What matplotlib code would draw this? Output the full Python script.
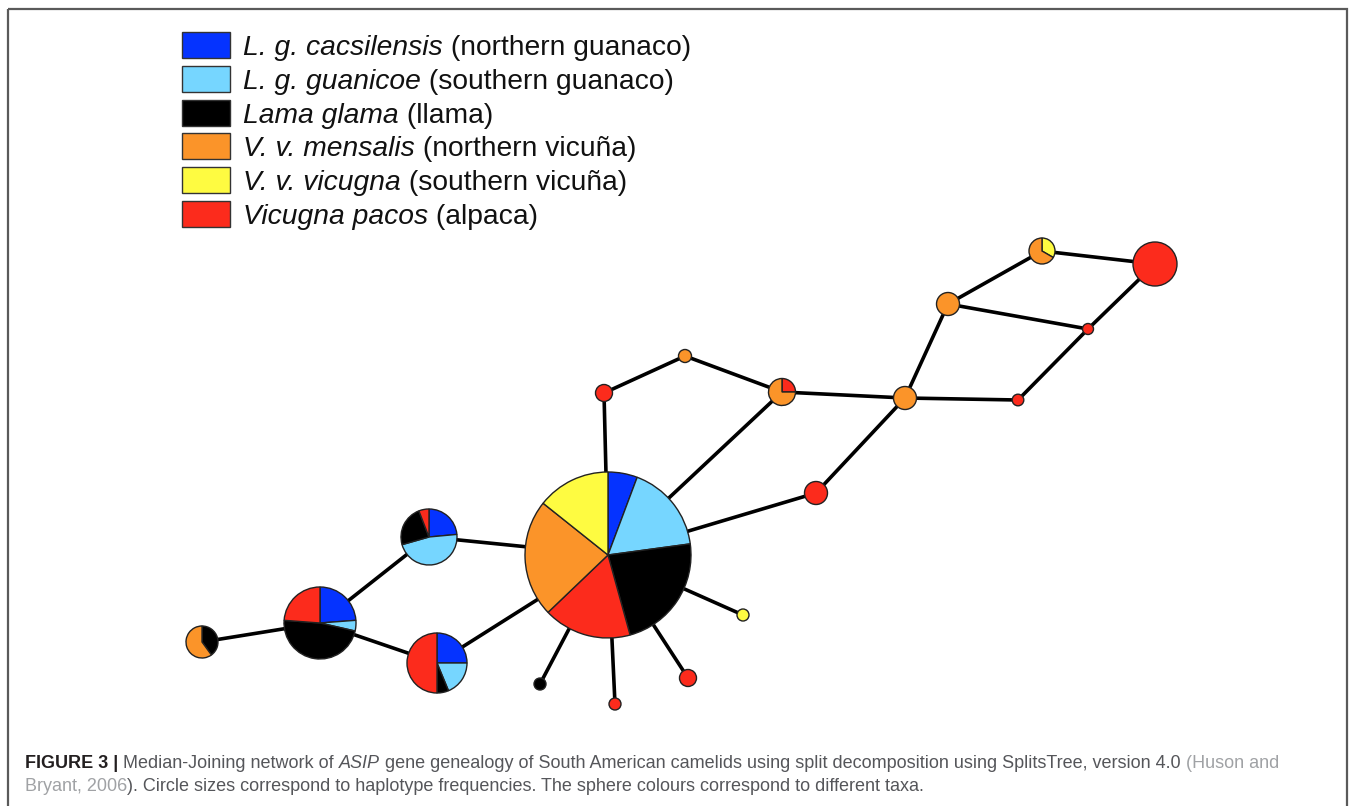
import matplotlib
matplotlib.use('Agg')
import matplotlib.pyplot as plt
from matplotlib.patches import Wedge, Circle, Rectangle

# taxa (legend order)
taxa_latin = ['L. g. cacsilensis', 'L. g. guanicoe', 'Lama glama',
              'V. v. mensalis', 'V. v. vicugna', 'Vicugna pacos']
taxa_common = ['(northern guanaco)', '(southern guanaco)', '(llama)',
               '(northern vicuña)', '(southern vicuña)', '(alpaca)']
taxa_colors = ['#0533ff', '#76d6ff', '#000000', '#fb9429', '#fefb41', '#fc2b1c']

# haplotype nodes: layout position, drawn radius, counts per taxon (legend order)
node_x = [608, 429, 320, 437, 202, 604, 685, 782, 905, 948, 1042, 1155, 1088, 1018, 816, 743, 688, 615, 540]
node_y = [555, 537, 623, 663, 642, 393, 356, 392, 398, 304, 251, 264, 329, 400, 493, 615, 678, 704, 684]
node_r = [83, 28, 36, 30, 16, 8.5, 6.5, 13.5, 11.5, 11.5, 13, 22, 5.5, 5.8, 11.5, 6, 8.5, 6, 6]
node_counts = [
    [2, 6, 8, 8, 5, 6],
    [4, 8, 4, 0, 0, 1],
    [5, 1, 10, 0, 0, 5],
    [4, 3, 1, 0, 0, 8],
    [0, 0, 2, 3, 0, 0],
    [0, 0, 0, 0, 0, 1],
    [0, 0, 0, 1, 0, 0],
    [0, 0, 0, 3, 0, 1],
    [0, 0, 0, 1, 0, 0],
    [0, 0, 0, 1, 0, 0],
    [0, 0, 0, 2, 1, 0],
    [0, 0, 0, 0, 0, 1],
    [0, 0, 0, 0, 0, 1],
    [0, 0, 0, 0, 0, 1],
    [0, 0, 0, 0, 0, 1],
    [0, 0, 0, 0, 1, 0],
    [0, 0, 0, 0, 0, 1],
    [0, 0, 0, 0, 0, 1],
    [0, 0, 1, 0, 0, 0],
]
# clockwise slice order from 12 o'clock
node_order = [[0, 1, 2, 5, 3, 4]] * 10 + [[4, 3]] + [[0, 1, 2, 5, 3, 4]] * 8
node_order[4] = [2, 3]
node_order[7] = [5, 3]

edges = [(0, 1), (1, 2), (2, 3), (2, 4), (3, 0), (0, 18), (0, 17), (0, 16), (0, 15),
         (0, 14), (0, 7), (0, 5), (5, 6), (6, 7), (7, 8), (14, 8), (8, 13), (8, 9),
         (9, 10), (9, 12), (10, 11), (11, 12), (12, 13)]

caption1 = [('FIGURE 3 | ', 'normal', 'bold', '#231f20'),
            ('Median-Joining network of ', 'normal', 'normal', '#55565a'),
            ('ASIP', 'italic', 'normal', '#55565a'),
            (' gene genealogy of South American camelids using split decomposition using SplitsTree, version 4.0 ',
             'normal', 'normal', '#55565a'),
            ('(Huson and', 'normal', 'normal', '#a0a2a5')]
caption2 = [('Bryant, 2006', 'normal', 'normal', '#a0a2a5'),
            ('). Circle sizes correspond to haplotype frequencies. The sphere colours correspond to different taxa.',
             'normal', 'normal', '#55565a')]

fig = plt.figure(figsize=(13.57, 8.06), dpi=100)
ax = fig.add_axes([0, 0, 1, 1])
ax.set_xlim(0, 1357)
ax.set_ylim(806, 0)
ax.axis('off')
renderer = fig.canvas.get_renderer()

# frame of the figure panel
ax.add_patch(Rectangle((8, 9), 1339, 830, fill=False, edgecolor='#5a5a5a', lw=1.6, zorder=0))

for a, b in edges:
    ax.plot([node_x[a], node_x[b]], [node_y[a], node_y[b]], color='black', lw=2.6,
            solid_capstyle='butt', zorder=1)

for i in range(len(node_x)):
    counts = node_counts[i]
    total = sum(counts)
    nonzero = [k for k in node_order[i] if counts[k] > 0]
    if len(nonzero) == 1:
        ax.add_patch(Circle((node_x[i], node_y[i]), node_r[i], facecolor=taxa_colors[nonzero[0]],
                            edgecolor='#222222', lw=1.0, zorder=2))
        continue
    theta = -90.0  # y axis is inverted, so increasing angle runs clockwise
    for k in nonzero:
        span = 360.0 * counts[k] / total
        ax.add_patch(Wedge((node_x[i], node_y[i]), node_r[i], theta, theta + span,
                           facecolor=taxa_colors[k], edgecolor='#222222', lw=1.0, zorder=2))
        theta += span


def run_width(s, props):
    t1 = ax.text(0, 0, '|' + s + '|', **props)
    t2 = ax.text(0, 0, '||', **props)
    w = t1.get_window_extent(renderer).width - t2.get_window_extent(renderer).width
    t1.remove()
    t2.remove()
    return w


def draw_runs(x, y, runs, size):
    for s, style, weight, color in runs:
        props = dict(fontsize=size, style=style, weight=weight, color=color,
                     family='Liberation Sans', va='baseline', ha='left')
        ax.text(x, y, s, zorder=3, **props)
        x += run_width(s, props)


# legend
for j in range(len(taxa_latin)):
    yc = 45 + j * 33.8
    ax.add_patch(Rectangle((182, yc - 13), 48, 26, facecolor=taxa_colors[j],
                           edgecolor='#333333', lw=1.0, zorder=3))
    draw_runs(243, yc + 10, [(taxa_latin[j], 'italic', 'normal', '#111111'),
                             (' ' + taxa_common[j], 'normal', 'normal', '#111111')], 20.3)

draw_runs(25, 768, caption1, 13)
draw_runs(25, 791, caption2, 13)

plt.savefig('out.png', dpi=100)
